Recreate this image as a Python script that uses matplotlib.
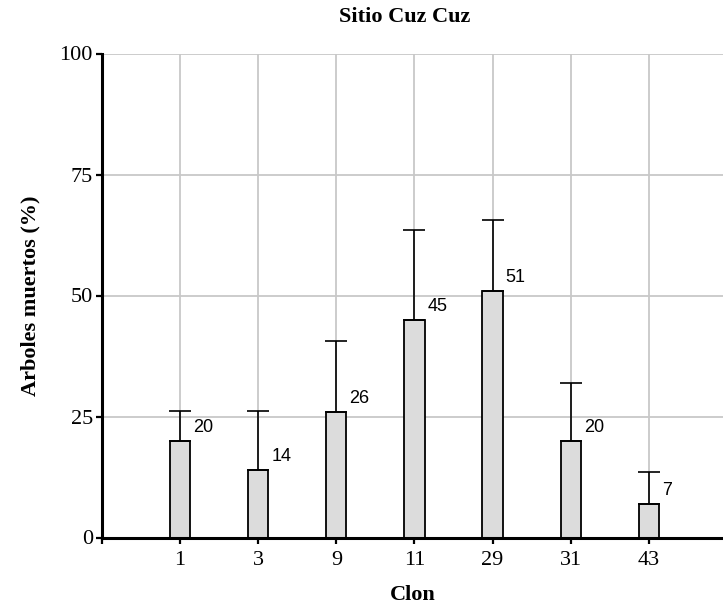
import matplotlib
matplotlib.use("Agg")
import matplotlib.pyplot as plt
import numpy as np

# Mortality per clone at the Cuz Cuz site
clones = ["1", "3", "9", "11", "29", "31", "43"]
mortality = [20, 14, 26, 45, 51, 20, 7]
upper_err = [6.2, 12.2, 14.6, 18.5, 14.5, 11.9, 6.6]
y_ticks = [0, 25, 50, 75, 100]

serif = ["Liberation Serif", "DejaVu Serif"]
sans = ["Liberation Sans", "DejaVu Sans"]

fig = plt.figure(figsize=(7.23, 6.08), dpi=100)
ax = fig.add_axes([102 / 723, 1 - 537.5 / 608, 1 - 102 / 723, (537.5 - 53.5) / 608])

x = np.arange(len(clones))
ax.bar(x, mortality, width=0.26, color="#dcdcdc", edgecolor="black",
       linewidth=1.3, zorder=3)
ax.errorbar(x, mortality, yerr=[np.zeros(len(x)), upper_err], fmt="none",
            ecolor="black", elinewidth=1.2, capsize=8, capthick=1.2, zorder=4)

for xi, v in zip(x, mortality):
    ax.annotate(str(v), (xi, v), xytext=(9.5, 9.5), textcoords="offset points",
                ha="left", va="center", fontsize=13, family=sans, zorder=5)

ax.set_xlim(-1, 6.95)
ax.set_ylim(0, 100)
ax.set_xticks(np.arange(-1, len(clones)))
ax.set_xticklabels([""] + clones, family=serif, fontsize=16)
ax.set_yticks(y_ticks)
ax.set_yticklabels([str(t) for t in y_ticks], family=serif, fontsize=16)

ax.grid(True, color="#c8c8c8", linewidth=1.3, zorder=0)
ax.set_axisbelow(True)

for s in ["top", "right"]:
    ax.spines[s].set_visible(False)
for s in ["left", "bottom"]:
    ax.spines[s].set_linewidth(2.2)
    ax.spines[s].set_zorder(6)
ax.tick_params(axis="both", direction="out", length=4.5, width=1.6)
ax.tick_params(axis="x", pad=5)
ax.tick_params(axis="y", pad=2)

ax.set_ylabel("Arboles muertos (%)", family=serif, fontsize=16,
              fontweight="bold", labelpad=14)
ax.set_xlabel("Clon", family=serif, fontsize=16, fontweight="bold", labelpad=11)
fig.text(405 / 723, 1 - 17 / 608, "Sitio Cuz Cuz", family=serif, fontsize=16,
         fontweight="bold", ha="center", va="center")

fig.savefig("out.png", dpi=100)
